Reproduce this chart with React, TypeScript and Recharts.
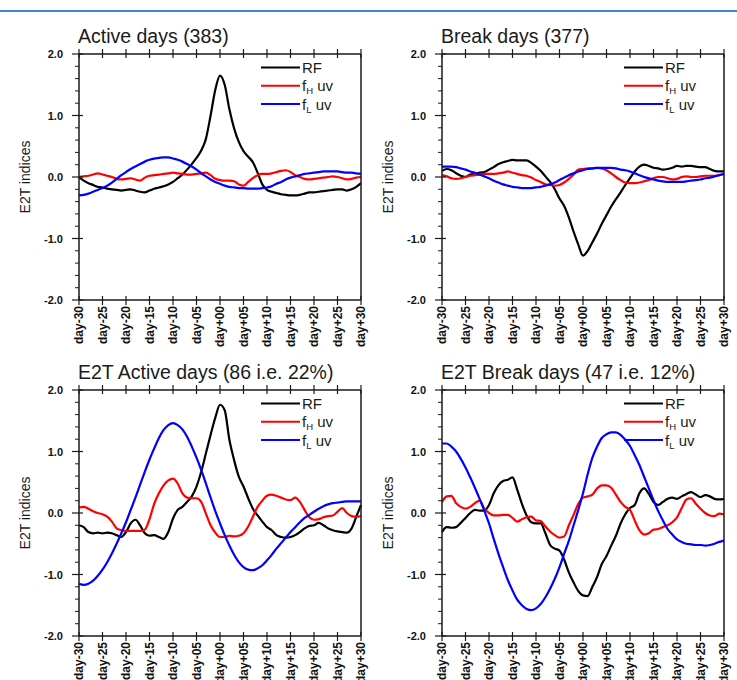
import React from "react";
import { LineChart, Line, XAxis, YAxis } from "recharts";

const FONT = "'Liberation Sans', Arial, Helvetica, sans-serif";
const AXIS = "#1a1a1a";

// lag in days relative to the composite centre
const days = [
  -30, -29, -28, -27, -26, -25, -24, -23, -22, -21,
  -20, -19, -18, -17, -16, -15, -14, -13, -12, -11,
  -10, -9, -8, -7, -6, -5, -4, -3, -2, -1,
  0, 1, 2, 3, 4, 5, 6, 7, 8, 9,
  10, 11, 12, 13, 14, 15, 16, 17, 18, 19,
  20, 21, 22, 23, 24, 25, 26, 27, 28, 29, 30,
];
const xTicks = [-30, -25, -20, -15, -10, -5, 0, 5, 10, 15, 20, 25, 30];
const yTicks = [-2, -1.8, -1.6, -1.4, -1.2, -1, -0.8, -0.6, -0.4, -0.2, 0, 0.2, 0.4, 0.6, 0.8, 1, 1.2, 1.4, 1.6, 1.8, 2];

// Active days (383)
const activeRf = [
  0.0, -0.06, -0.1, -0.13, -0.16, -0.17, -0.19, -0.2, -0.21, -0.22,
  -0.21, -0.2, -0.22, -0.24, -0.25, -0.22, -0.19, -0.17, -0.15, -0.12,
  -0.08, -0.02, 0.04, 0.12, 0.21, 0.31, 0.43, 0.62, 1.0, 1.42,
  1.65, 1.5, 1.1, 0.79, 0.57, 0.42, 0.33, 0.24, 0.07, -0.12,
  -0.21, -0.24, -0.26, -0.28, -0.29, -0.3, -0.3, -0.29, -0.27, -0.25,
  -0.25, -0.24, -0.23, -0.22, -0.21, -0.2, -0.2, -0.22, -0.2, -0.16, -0.1,
];
const activeFh = [
  0.0, 0.01, 0.02, 0.04, 0.06, 0.04, 0.02, 0.0, -0.03, -0.04,
  -0.03, -0.02, -0.04, -0.06, -0.01, 0.02, 0.03, 0.04, 0.05, 0.06,
  0.07, 0.06, 0.05, 0.04, 0.04, 0.05, 0.06, 0.07, 0.03, -0.03,
  -0.05, -0.06, -0.06, -0.07, -0.12, -0.14, -0.08, -0.02, 0.03, 0.05,
  0.05, 0.06, 0.08, 0.1, 0.11, 0.08, 0.03, 0.0, -0.03, -0.04,
  -0.03, -0.02, -0.01, 0.0, 0.01, 0.0, -0.02, -0.04, -0.03, -0.01, 0.0,
];
const activeFl = [
  -0.3, -0.29, -0.27, -0.24, -0.21, -0.18, -0.14, -0.09, -0.03, 0.03,
  0.08, 0.13, 0.17, 0.21, 0.25, 0.28, 0.3, 0.31, 0.32, 0.32,
  0.3, 0.28, 0.25, 0.21, 0.17, 0.12, 0.06, 0.01, -0.04, -0.08,
  -0.11, -0.14, -0.16, -0.17, -0.18, -0.18, -0.19, -0.19, -0.19, -0.18,
  -0.17, -0.15, -0.11, -0.08, -0.04, -0.01, 0.01, 0.03, 0.05, 0.06,
  0.07, 0.08, 0.09, 0.09, 0.09, 0.09, 0.08, 0.07, 0.07, 0.06, 0.05,
];

// Break days (377)
const breakRf = [
  0.1, 0.13, 0.11, 0.06, 0.02, 0.0, 0.04, 0.05, 0.07, 0.08,
  0.12, 0.16, 0.21, 0.24, 0.26, 0.28, 0.27, 0.27, 0.27, 0.23,
  0.17, 0.1, 0.01, -0.08, -0.2, -0.35, -0.47, -0.66, -0.89, -1.1,
  -1.28, -1.2, -1.06, -0.92, -0.76, -0.62, -0.48, -0.36, -0.25, -0.13,
  -0.02, 0.09, 0.17, 0.2, 0.18, 0.15, 0.14, 0.12, 0.13, 0.15,
  0.18, 0.17, 0.18, 0.18, 0.17, 0.16, 0.16, 0.13, 0.1, 0.09, 0.09,
];
const breakFh = [
  0.03, 0.01, -0.02, -0.03, -0.02, 0.0, 0.02, 0.03, 0.04, 0.05,
  0.05, 0.05, 0.06, 0.07, 0.09, 0.07, 0.05, 0.03, 0.02, -0.01,
  -0.05, -0.08, -0.12, -0.13, -0.14, -0.13, -0.09, -0.03, 0.04, 0.12,
  0.13, 0.14, 0.14, 0.15, 0.14, 0.11, 0.06, 0.0, -0.05, -0.09,
  -0.1, -0.1, -0.09, -0.07, -0.05, -0.02, 0.0, 0.0, -0.02, -0.04,
  -0.03, 0.0, 0.01, 0.0, 0.0, 0.01, 0.02, 0.02, 0.02, 0.03, 0.05,
];
const breakFl = [
  0.17, 0.17, 0.17, 0.16, 0.14, 0.12, 0.09, 0.07, 0.04, 0.01,
  -0.02, -0.06, -0.09, -0.12, -0.14, -0.16, -0.17, -0.18, -0.18, -0.18,
  -0.17, -0.16, -0.14, -0.12, -0.09, -0.05, -0.01, 0.03, 0.06, 0.09,
  0.11, 0.13, 0.14, 0.15, 0.15, 0.15, 0.15, 0.14, 0.12, 0.11,
  0.09, 0.06, 0.03, 0.0, -0.02, -0.04, -0.06, -0.07, -0.08, -0.08,
  -0.08, -0.08, -0.07, -0.06, -0.05, -0.04, -0.02, -0.01, 0.01, 0.03, 0.05,
];

// E2T Active days (86 i.e. 22%)
const e2tActiveRf = [
  -0.2, -0.23, -0.31, -0.33, -0.32, -0.33, -0.32, -0.33, -0.36, -0.39,
  -0.31, -0.17, -0.11, -0.2, -0.33, -0.37, -0.36, -0.39, -0.42, -0.31,
  -0.09, 0.05, 0.1, 0.18, 0.27, 0.43, 0.67, 0.97, 1.27, 1.55,
  1.76, 1.67, 1.19, 0.86, 0.59, 0.43, 0.24, 0.07, -0.04, -0.14,
  -0.23, -0.28, -0.36, -0.39, -0.4, -0.39, -0.36, -0.31, -0.25, -0.21,
  -0.2, -0.16, -0.2, -0.25, -0.28, -0.3, -0.31, -0.32, -0.25, -0.06, 0.13,
];
const e2tActiveFh = [
  0.09, 0.1, 0.07, 0.03, 0.0, -0.02, -0.06, -0.14, -0.25, -0.28,
  -0.29, -0.29, -0.29, -0.29, -0.27, -0.1, 0.15, 0.32, 0.45, 0.53,
  0.56, 0.48, 0.32, 0.25, 0.24, 0.24, 0.18, -0.01, -0.2, -0.32,
  -0.39, -0.39, -0.37, -0.38, -0.37, -0.33, -0.22, -0.06, 0.1, 0.2,
  0.28, 0.3, 0.28, 0.25, 0.22, 0.21, 0.25, 0.18, 0.05, -0.07,
  -0.11, -0.1, -0.07, -0.05, -0.04, 0.02, 0.08, 0.0, -0.05, -0.06, -0.05,
];
const e2tActiveFl = [
  -1.15, -1.17, -1.15, -1.1, -1.02, -0.92, -0.8, -0.66, -0.5, -0.33,
  -0.15, 0.05, 0.25, 0.46, 0.67, 0.87, 1.05, 1.22, 1.35, 1.43,
  1.46, 1.43, 1.36, 1.24, 1.08, 0.9, 0.7, 0.48, 0.25, 0.03,
  -0.17, -0.36, -0.53, -0.68, -0.8, -0.88, -0.92, -0.93, -0.9, -0.85,
  -0.77, -0.68, -0.58, -0.49, -0.4, -0.31, -0.23, -0.15, -0.08, -0.03,
  0.02, 0.07, 0.11, 0.14, 0.16, 0.17, 0.18, 0.19, 0.19, 0.19, 0.19,
];

// E2T Break days (47 i.e. 12%)
const e2tBreakRf = [
  -0.31, -0.23, -0.24, -0.23, -0.16, -0.08, 0.0, 0.05, 0.04, 0.04,
  0.13, 0.32, 0.45, 0.52, 0.54, 0.58, 0.38, 0.15, -0.04, -0.15,
  -0.17, -0.17, -0.33, -0.52, -0.58, -0.61, -0.76, -0.97, -1.13, -1.27,
  -1.34, -1.35, -1.2, -1.04, -0.83, -0.7, -0.53, -0.37, -0.17, -0.02,
  0.08, 0.13, 0.32, 0.4, 0.31, 0.18, 0.13, 0.18, 0.23, 0.25,
  0.23, 0.27, 0.31, 0.34, 0.3, 0.26, 0.29, 0.27, 0.23, 0.22, 0.23,
];
const e2tBreakFh = [
  0.18, 0.27, 0.28, 0.16, 0.1, 0.07, 0.1, 0.16, 0.2, 0.07,
  0.0, -0.04, -0.04, -0.03, -0.03, -0.08, -0.14, -0.1, -0.07, -0.06,
  -0.12, -0.13, -0.22, -0.3, -0.36, -0.4, -0.38, -0.2, -0.03, 0.15,
  0.25, 0.27, 0.3, 0.4, 0.45, 0.45, 0.41, 0.3, 0.18, 0.1,
  0.05, -0.12, -0.28, -0.35, -0.33, -0.27, -0.26, -0.23, -0.2, -0.15,
  -0.07, 0.08, 0.22, 0.24, 0.15, 0.07, 0.0, -0.04, -0.05, -0.01, -0.02,
];
const e2tBreakFl = [
  1.13, 1.13, 1.08, 1.0, 0.88, 0.74, 0.58, 0.41, 0.23, 0.04,
  -0.17, -0.42, -0.66, -0.88, -1.09, -1.26, -1.41, -1.5, -1.56, -1.58,
  -1.55, -1.48, -1.37, -1.23, -1.07, -0.88, -0.66, -0.45, -0.2, 0.05,
  0.32, 0.63, 0.9, 1.08, 1.22, 1.28, 1.31, 1.31, 1.27, 1.19,
  1.09, 0.94, 0.78, 0.59, 0.4, 0.21, 0.03, -0.12, -0.26, -0.35,
  -0.43, -0.47, -0.5, -0.51, -0.52, -0.52, -0.53, -0.52, -0.5, -0.47, -0.45,
];

const PLOT_W = 282;
const PLOT_H = 246;
const OFF_L = 60;
const OFF_T = 40;
const CHART_W = OFF_L + PLOT_W + 12;
const CHART_H = OFF_T + PLOT_H + 60;
const PAD = 30; // extra room on the left of the text overlay

const panels = [
  { title: "Active days (383)", rf: activeRf, fh: activeFh, fl: activeFl, left: 79, top: 54 },
  { title: "Break days (377)", rf: breakRf, fh: breakFh, fl: breakFl, left: 442, top: 54 },
  { title: "E2T Active days (86 i.e. 22%)", rf: e2tActiveRf, fh: e2tActiveFh, fl: e2tActiveFl, left: 79, top: 390 },
  { title: "E2T Break days (47 i.e. 12%)", rf: e2tBreakRf, fh: e2tBreakFh, fl: e2tBreakFl, left: 442, top: 390 },
];

const fmtDay = (v: number) => `day${v < 0 ? "-" : "+"}${String(Math.abs(v)).padStart(2, "0")}`;
const isMajor = (v: number) => Math.abs(v - Math.round(v)) < 1e-6;

function BottomTick({ x, y, payload }: any) {
  return (
    <g>
      <line x1={x} y1={y - 4} x2={x} y2={y + 5} stroke={AXIS} strokeWidth={1.2} />
      <text
        transform={`translate(${x + 4},${y + 6}) rotate(-90)`}
        textAnchor="end"
        fontSize={12}
        fontWeight="bold"
        fontFamily={FONT}
        fill="#111"
      >
        {fmtDay(payload.value)}
      </text>
    </g>
  );
}

function TopTick({ x, y }: any) {
  return <line x1={x} y1={y - 5} x2={x} y2={y + 4} stroke={AXIS} strokeWidth={1.2} />;
}

function LeftTick({ x, y, payload }: any) {
  const v = payload.value as number;
  if (!isMajor(v)) return <line x1={x - 4} y1={y} x2={x} y2={y} stroke={AXIS} strokeWidth={1} />;
  return (
    <g>
      <line x1={x - 7} y1={y} x2={x + 4} y2={y} stroke={AXIS} strokeWidth={1.2} />
      <text x={x - 16} y={y + 4} textAnchor="end" fontSize={11} fontWeight="bold" fontFamily={FONT} fill="#111">
        {v.toFixed(1)}
      </text>
    </g>
  );
}

function RightTick({ x, y, payload }: any) {
  const v = payload.value as number;
  if (!isMajor(v)) return <line x1={x} y1={y} x2={x + 4} y2={y} stroke={AXIS} strokeWidth={1} />;
  return <line x1={x - 4} y1={y} x2={x + 7} y2={y} stroke={AXIS} strokeWidth={1.2} />;
}

const legendItems = [
  { color: "#000000", main: "RF", sub: "" },
  { color: "#ff0000", main: "f", sub: "H" },
  { color: "#0000ff", main: "f", sub: "L" },
];

function Panel({ p }: { p: (typeof panels)[number] }) {
  const data = days.map((d, i) => ({ day: d, rf: p.rf[i], fh: p.fh[i], fl: p.fl[i] }));
  const ox = PAD + OFF_L; // plot left inside the overlay
  return (
    <div style={{ position: "absolute", left: p.left - OFF_L, top: p.top - OFF_T, width: CHART_W, height: CHART_H }}>
      <LineChart width={CHART_W} height={CHART_H} data={data} margin={{ top: OFF_T - 1, right: 11, bottom: 0, left: 0 }}>
        <XAxis
          xAxisId="bottom"
          dataKey="day"
          type="number"
          domain={[-30, 30]}
          ticks={xTicks}
          interval={0}
          height={60}
          tickSize={0}
          tickMargin={0}
          tickLine={false}
          tick={<BottomTick />}
          axisLine={{ stroke: AXIS, strokeWidth: 1.5 }}
        />
        <XAxis
          xAxisId="top"
          orientation="top"
          dataKey="day"
          type="number"
          domain={[-30, 30]}
          ticks={xTicks}
          interval={0}
          height={1}
          tickSize={0}
          tickMargin={0}
          tickLine={false}
          tick={<TopTick />}
          axisLine={{ stroke: AXIS, strokeWidth: 1.5 }}
        />
        <YAxis
          yAxisId="left"
          type="number"
          domain={[-2, 2]}
          ticks={yTicks}
          interval={0}
          width={OFF_L}
          tickSize={0}
          tickMargin={0}
          tickLine={false}
          tick={<LeftTick />}
          axisLine={{ stroke: AXIS, strokeWidth: 1.5 }}
        />
        <YAxis
          yAxisId="right"
          orientation="right"
          type="number"
          domain={[-2, 2]}
          ticks={yTicks}
          interval={0}
          width={1}
          tickSize={0}
          tickMargin={0}
          tickLine={false}
          tick={<RightTick />}
          axisLine={{ stroke: AXIS, strokeWidth: 1.5 }}
        />
        <Line xAxisId="bottom" yAxisId="left" type="monotone" dataKey="rf" stroke="#000000" strokeWidth={2.2} dot={false} isAnimationActive={false} />
        <Line xAxisId="bottom" yAxisId="left" type="monotone" dataKey="fh" stroke="#ff0000" strokeWidth={2.2} dot={false} isAnimationActive={false} />
        <Line xAxisId="bottom" yAxisId="left" type="monotone" dataKey="fl" stroke="#0000ff" strokeWidth={2.2} dot={false} isAnimationActive={false} />
      </LineChart>

      {/* title, y label and legend drawn over the chart */}
      <svg
        width={CHART_W + PAD}
        height={CHART_H}
        style={{ position: "absolute", left: -PAD, top: 0, pointerEvents: "none", overflow: "visible" }}
      >
        <text x={ox - 1} y={OFF_T - 11} fontSize={19.5} fontFamily={FONT} fill="#1a1a1a">
          {p.title}
        </text>
        <text
          transform={`translate(${ox - 49},${OFF_T + PLOT_H / 2}) rotate(-90)`}
          textAnchor="middle"
          fontSize={14}
          fontFamily={FONT}
          fill="#1a1a1a"
        >
          E2T indices
        </text>
        {legendItems.map((it, i) => {
          const ly = OFF_T + 13.5 + i * 18.3;
          return (
            <g key={i}>
              <line x1={ox + 182} y1={ly} x2={ox + 221} y2={ly} stroke={it.color} strokeWidth={2} />
              <text x={ox + 223} y={ly + 5.5} fontSize={15} fontFamily={FONT} fill="#1a1a1a">
                {it.main}
                {it.sub && (
                  <>
                    <tspan fontSize={9.5} dy={3}>{it.sub}</tspan>
                    <tspan dy={-3}> uv</tspan>
                  </>
                )}
              </text>
            </g>
          );
        })}
      </svg>
    </div>
  );
}

export default function App() {
  return (
    <div style={{ position: "absolute", left: 0, top: 0, width: 737, height: 680, overflow: "hidden", background: "#fff" }}>
      <div style={{ position: "absolute", left: 0, top: 10, width: 737, height: 2, background: "#3a88d2" }} />
      {panels.map((p, i) => (
        <Panel key={i} p={p} />
      ))}
    </div>
  );
}
